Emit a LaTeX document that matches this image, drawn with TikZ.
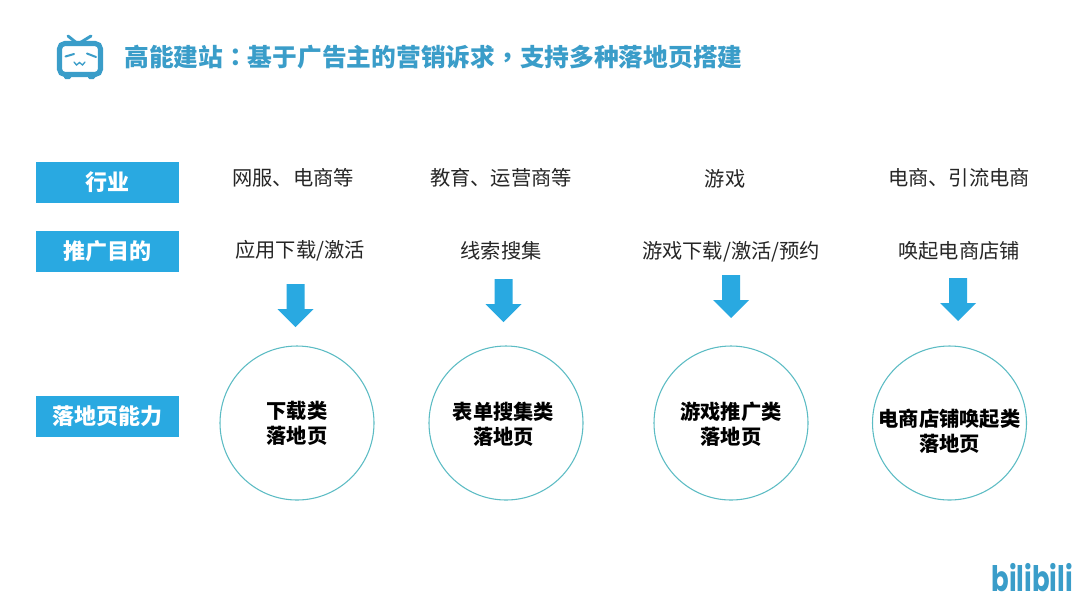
\documentclass[tikz,border=0pt]{standalone}
\usepackage{fontspec}
\setmainfont{Noto Sans CJK SC}
\newfontfamily\tcf{Noto Sans CJK TC}
\newfontfamily\logofont{Poppins}
\definecolor{bl}{HTML}{29A9E1}
\definecolor{tealt}{HTML}{3A9DC9}
\definecolor{ring}{HTML}{5CBCC4}
\definecolor{txt}{HTML}{262626}
\tikzset{
 x=0.75pt,y=-0.75pt,
 label box/.style={fill=bl,minimum width=107.25pt,minimum height=30.75pt,inner sep=0pt,text=white,font=\fontsize{16.5}{18}\selectfont\bfseries},
 plain/.style={text=txt,font=\fontsize{15.2}{18}\selectfont,inner sep=0pt},
 disc/.style={circle,draw=ring,line width=0.8pt,minimum size=115.5pt,inner sep=0pt},
 disctext/.style={align=center,inner sep=0pt,text=black,font=\fontsize{15.2}{18.6}\selectfont\bfseries},
}
\begin{document}
\begin{tikzpicture}
\useasboundingbox (0,0) rectangle (1080,608);
\fill[white] (0,0) rectangle (1080,608);
% TV logo
\draw[tealt,line width=2.2pt,line cap=round] (68,36)--(78,44)--(91,36);
\fill[tealt,rounded corners=1pt] (64,72) rectangle (71,79) (88,72) rectangle (95,79);
\draw[tealt,line width=3.8pt,rounded corners=4pt,fill=white] (59.5,43.5) rectangle (100.5,74.5);
\draw[tealt,line width=1.5pt,line cap=round] (65.5,56.5)--(74,54) (87,53.5)--(96,57);
\draw[tealt,line width=1pt,line cap=round] (74,62)--(76.5,65)--(79.5,62.5)--(82.5,65)--(85,62);
% title
\node[anchor=west,inner sep=0pt,text=tealt,font=\fontsize{18.55}{22}\selectfont\bfseries] (title) at (124,57) {高能建站{\tcf ：}基于广告主的营销诉求{\tcf ，}支持多种落地页搭建};
% row labels
\node[label box] (l1) at (107.5,182) {行业};
\node[label box] (l2) at (107.5,251) {推广目的};
\node[label box] (l3) at (107.5,416) {落地页能力};
% row 1
\node[plain] (a1) at (293,178) {网服、电商等};
\node[plain] (b1) at (501,178) {教育、运营商等};
\node[plain] (c1) at (725,179) {游戏};
\node[plain] (d1) at (959,178) {电商、引流电商};
% row 2
\node[plain] (a2) at (300,251) {应用下载/激活};
\node[plain] (b2) at (501,251) {线索搜集};
\node[plain] (c2) at (731,252) {游戏下载/激活/预约};
\node[plain] (d2) at (959,251) {唤起电商店铺};
% arrows
\foreach \cx/\top in {295.5/284,503.5/279,731/275,958/278}{
 \fill[bl] (\cx-9,\top) -- (\cx+9,\top) -- (\cx+9,\top+25) -- (\cx+18,\top+25) -- (\cx,\top+43) -- (\cx-18,\top+25) -- (\cx-9,\top+25) -- cycle;
}
% circles
\node[disc] (a3) at (297,423) {};
\node[disc] (b3) at (506,423) {};
\node[disc] (c3) at (731,423) {};
\node[disc] (d3) at (949.5,423) {};
\node[disctext] (a4) at (297,423) {下载类\\落地页};
\node[disctext] (b4) at (503.5,424.5) {表单搜集类\\落地页};
\node[disctext] (c4) at (731,424.5) {游戏推广类\\落地页};
\node[disctext] (d4) at (949.5,431) {电商店铺唤起类\\落地页};
% logo
\node[inner sep=0pt,text=tealt,font=\logofont\bfseries\fontsize{19.5}{20}\selectfont,yscale=1.35] (brand) at (1032,578) {bilibili};
\end{tikzpicture}
\end{document}
